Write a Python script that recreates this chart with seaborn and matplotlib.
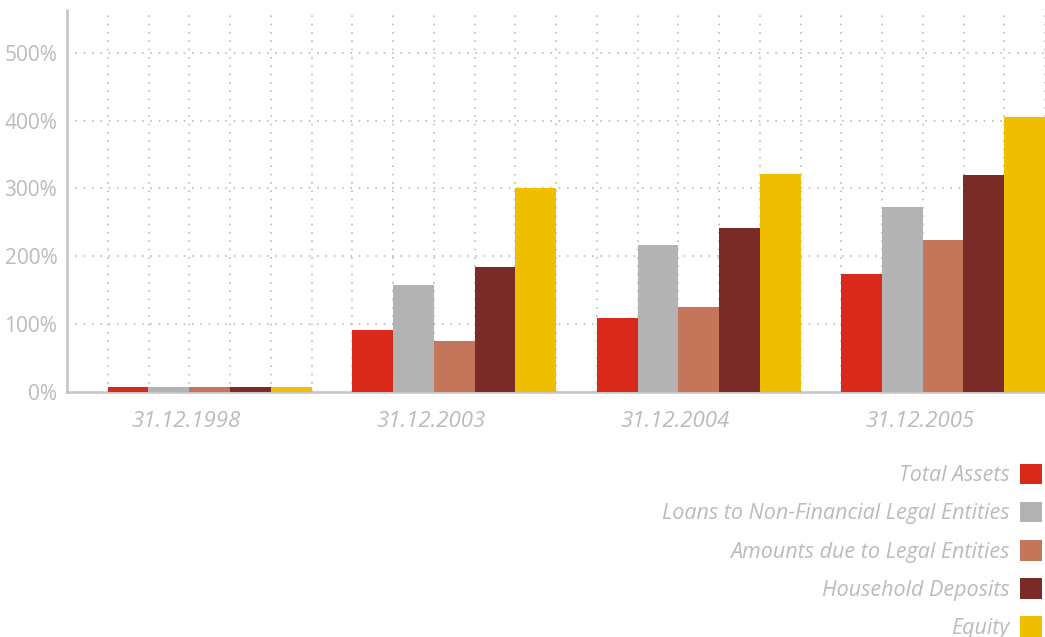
import numpy as np
import pandas as pd
import seaborn as sns
import matplotlib.pyplot as plt
import matplotlib.transforms as mtransforms
from matplotlib.ticker import FixedLocator, FuncFormatter

# growth vs 31.12.1998, percent
dates = ["31.12.1998", "31.12.2003", "31.12.2004", "31.12.2005"]
series = ["Total Assets", "Loans to Non-Financial Legal Entities",
          "Amounts due to Legal Entities", "Household Deposits", "Equity"]
total_assets = [7, 91, 109, 174]
loans = [7, 158, 217, 273]
amounts_due = [7, 75, 125, 224]
household = [7, 184, 242, 320]
equity = [7, 301, 321, 406]
colors = ["#d9291a", "#b3b3b4", "#c4755a", "#7a2a27", "#f0be00"]

vals = [total_assets, loans, amounts_due, household, equity]
rows = []
for s, v in zip(series, vals):
    for d, x in zip(dates, v):
        rows.append({"date": d, "series": s, "value": x})
df = pd.DataFrame(rows)

sns.set_style("white")
plt.rcParams['font.family'] = ['Open Sans', 'DejaVu Sans']
grey = "#bbbbbb"

fig = plt.figure(figsize=(10.45, 6.37), dpi=100)
ax = fig.add_axes([67/1045, 1 - 392/637, 1 - 67/1045, 382/637])

sns.barplot(data=df, x="date", y="value", hue="series", palette=colors,
            width=5/6, saturation=1, gap=0, linewidth=0, ax=ax, zorder=3)

ax.set_ylim(0, 563)
ax.set_xlim(-7/12, 3 + 5/12)
ax.set_yticks([0, 100, 200, 300, 400, 500])
ax.yaxis.set_major_formatter(FuncFormatter(lambda v, p: f"{v:.0f}%"))
# vertical dotted lines sit on every bar edge
ax.xaxis.set_minor_locator(FixedLocator(np.arange(-5/12, 3.5, 1/6)))
ax.grid(axis="y", which="major", color=grey, linestyle=(0, (1, 4)), lw=1.2)
ax.grid(axis="x", which="minor", color=grey, linestyle=(0, (1, 4)), lw=1.2)
ax.grid(axis="x", which="major", visible=False)
ax.set_axisbelow(True)

ax.set_xlabel("")
ax.set_ylabel("")
ax.tick_params(axis="both", which="both", length=0, colors=grey)
ax.tick_params(axis="y", labelsize=15, pad=7)
ax.tick_params(axis="x", labelsize=16, pad=14)
shift = mtransforms.ScaledTranslation(-23/100, 0, fig.dpi_scale_trans)
for t in ax.get_xticklabels():
    t.set_fontstyle("italic")
    t.set_transform(t.get_transform() + shift)

for s in ["top", "right"]:
    ax.spines[s].set_visible(False)
for s in ["left", "bottom"]:
    ax.spines[s].set_color("#c4c4c4")
    ax.spines[s].set_linewidth(1.8)

handles, labels = ax.get_legend_handles_labels()
ax.get_legend().remove()
leg = fig.legend(handles, labels, loc="lower right",
                 bbox_to_anchor=(1.0 - 1/1045, -4/637),
                 frameon=False, markerfirst=False, handlelength=1.0,
                 handleheight=1.1, handletextpad=0.5, labelspacing=0.72,
                 borderaxespad=0.0, borderpad=0.1,
                 prop={"size": 15.5, "style": "italic"})
for t in leg.get_texts():
    t.set_color(grey)
    t.set_ha("right")

fig.savefig("out.png", dpi=100)
